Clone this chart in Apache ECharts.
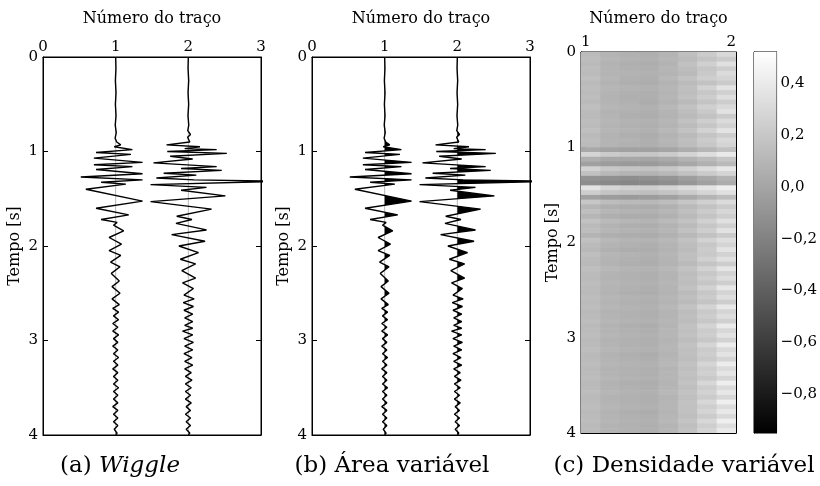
<!DOCTYPE html>
<html>
<head>
<meta charset="utf-8">
<script src="https://cdn.jsdelivr.net/npm/echarts@6/dist/echarts.min.js"></script>
<style>
  html, body { margin: 0; padding: 0; background: #fff; }
  #chart { width: 820px; height: 486px; }
</style>
</head>
<body>
<div id="chart"></div>
<script>
(function () {

    var FONT = 'DejaVu Serif';

    // trace numbers (centre of each wiggle)
    var traceCentres = [1, 2];

    // trace 1: time [s] and amplitude (turning points)
    var trace1T = [0.00, 0.12, 0.25, 0.38, 0.50, 0.62, 0.72, 0.80, 0.86, 0.90, 0.93, 0.95,
        0.98, 1.01, 1.03, 1.07, 1.115, 1.14, 1.16, 1.19, 1.235, 1.27, 1.30, 1.325, 1.345, 1.40,
        1.525, 1.60, 1.67, 1.72, 1.75, 1.78, 1.84, 1.91, 1.98, 2.05, 2.10, 2.17, 2.22, 2.29,
        2.37, 2.43, 2.50, 2.56, 2.62, 2.66, 2.70, 2.74, 2.78, 2.82, 2.86, 2.90, 2.94, 2.98,
        3.02, 3.06, 3.10, 3.14, 3.18, 3.22, 3.26, 3.30, 3.34, 3.38, 3.42, 3.46, 3.50, 3.54,
        3.58, 3.62, 3.66, 3.70, 3.74, 3.78, 3.82, 3.86, 3.90, 3.94, 3.98, 4.00];
    var trace1A = [0.000, 0.004, -0.004, 0.005, -0.004, 0.005, -0.006, 0.008, -0.008, 0.015, 0.07, -0.02,
        0.23, -0.27, 0.21, -0.30, 0.37, -0.30, 0.23, -0.27, 0.37, -0.48, 0.37, -0.20, 0.14, -0.41,
        0.37, -0.27, 0.18, -0.20, 0.02, -0.03, 0.11, -0.09, 0.08, -0.09, 0.07, -0.07, 0.06, -0.06,
        0.05, -0.05, 0.06, -0.05, 0.05, -0.04, 0.04, -0.03, 0.04, -0.04, 0.03, -0.04, 0.04, -0.03,
        0.03, -0.04, 0.03, -0.03, 0.04, -0.03, 0.03, -0.04, 0.03, -0.03, 0.03, -0.03, 0.04, -0.03,
        0.03, -0.03, 0.03, -0.04, 0.03, -0.03, 0.03, -0.03, 0.03, -0.02, 0.02, 0.00];

    // trace 2
    var trace2T = [0.00, 0.12, 0.25, 0.38, 0.50, 0.62, 0.72, 0.78, 0.82, 0.85, 0.90, 0.93,
        0.95, 0.97, 0.98, 1.00, 1.02, 1.05, 1.08, 1.12, 1.16, 1.18, 1.20, 1.23, 1.25, 1.28,
        1.30, 1.316, 1.35, 1.38, 1.41, 1.47, 1.53, 1.61, 1.685, 1.72, 1.76, 1.83, 1.88, 1.95,
        2.00, 2.07, 2.14, 2.19, 2.26, 2.34, 2.39, 2.45, 2.52, 2.56, 2.60, 2.64, 2.68, 2.72,
        2.76, 2.80, 2.84, 2.87, 2.90, 2.94, 2.98, 3.02, 3.06, 3.10, 3.14, 3.18, 3.22, 3.26,
        3.30, 3.34, 3.38, 3.42, 3.46, 3.50, 3.54, 3.58, 3.62, 3.66, 3.70, 3.74, 3.78, 3.82,
        3.86, 3.90, 3.94, 3.98, 4.00];
    var trace2A = [0.000, -0.004, 0.005, -0.004, 0.005, -0.005, 0.006, -0.008, 0.03, -0.01, 0.02, -0.30,
        0.16, -0.05, 0.39, -0.29, 0.53, -0.25, 0.06, -0.48, 0.39, -0.10, 0.46, -0.34, 0.11, -0.44,
        0.08, 1.25, -0.52, 0.25, -0.10, 0.51, -0.52, 0.32, -0.16, 0.05, -0.17, 0.25, -0.23, 0.23,
        -0.13, 0.14, -0.11, 0.10, -0.09, 0.10, -0.08, 0.07, -0.06, 0.08, -0.07, 0.07, -0.06, 0.06,
        -0.05, 0.06, -0.05, 0.06, -0.08, 0.06, -0.06, 0.07, -0.05, 0.06, -0.06, 0.05, -0.05, 0.06,
        -0.05, 0.04, -0.04, 0.05, -0.04, 0.04, -0.04, 0.03, -0.04, 0.04, -0.03, 0.03, -0.04, 0.03,
        -0.03, 0.03, -0.03, 0.02, 0.00];

    // variable density image: column centres (trace axis) and one row per 0.05 s
    var heatCols = [1.0625, 1.1875, 1.3125, 1.4375, 1.5625, 1.6875, 1.8125, 1.9375];
    var heatRowStep = 0.05;
    var heatRows = [
        [0.13, 0.09, 0.07, 0.06, 0.09, 0.15, 0.22, 0.30],
        [0.14, 0.10, 0.08, 0.07, 0.10, 0.13, 0.18, 0.22],
        [0.12, 0.08, 0.06, 0.05, 0.08, 0.16, 0.25, 0.34],
        [0.14, 0.09, 0.07, 0.06, 0.10, 0.14, 0.19, 0.24],
        [0.13, 0.09, 0.08, 0.07, 0.09, 0.12, 0.21, 0.31],
        [0.15, 0.10, 0.07, 0.06, 0.11, 0.17, 0.24, 0.27],
        [0.12, 0.08, 0.06, 0.05, 0.08, 0.13, 0.17, 0.22],
        [0.14, 0.10, 0.08, 0.07, 0.10, 0.15, 0.26, 0.36],
        [0.13, 0.09, 0.07, 0.06, 0.09, 0.14, 0.20, 0.25],
        [0.14, 0.08, 0.06, 0.06, 0.10, 0.16, 0.23, 0.33],
        [0.12, 0.09, 0.07, 0.05, 0.08, 0.12, 0.18, 0.23],
        [0.15, 0.10, 0.08, 0.07, 0.11, 0.17, 0.25, 0.30],
        [0.13, 0.08, 0.07, 0.06, 0.09, 0.14, 0.21, 0.35],
        [0.12, 0.09, 0.06, 0.05, 0.08, 0.12, 0.17, 0.22],
        [0.14, 0.10, 0.08, 0.07, 0.10, 0.16, 0.24, 0.31],
        [0.13, 0.09, 0.07, 0.06, 0.09, 0.13, 0.19, 0.26],
        [0.15, 0.10, 0.08, 0.07, 0.11, 0.17, 0.26, 0.36],
        [0.12, 0.08, 0.06, 0.05, 0.08, 0.12, 0.18, 0.23],
        [0.14, 0.09, 0.08, 0.06, 0.10, 0.15, 0.22, 0.30],
        [0.13, 0.09, 0.07, 0.06, 0.09, 0.14, 0.20, 0.27],
        [0.02, -0.01, -0.02, -0.02, 0.00, 0.05, 0.10, 0.16],
        [0.28, 0.22, 0.20, 0.19, 0.22, 0.27, 0.33, 0.40],
        [0.06, 0.02, 0.01, 0.00, 0.03, 0.08, 0.13, 0.19],
        [-0.02, -0.05, -0.06, -0.06, -0.03, 0.02, 0.07, 0.12],
        [0.26, 0.20, 0.18, 0.17, 0.20, 0.25, 0.31, 0.38],
        [0.16, 0.11, 0.09, 0.08, 0.11, 0.16, 0.22, 0.28],
        [-0.10, -0.12, -0.13, -0.12, -0.09, -0.04, 0.02, 0.08],
        [-0.14, -0.16, -0.17, -0.16, -0.13, -0.08, -0.02, 0.04],
        [0.36, 0.28, 0.25, 0.24, 0.27, 0.31, 0.36, 0.42],
        [0.24, 0.18, 0.16, 0.15, 0.18, 0.22, 0.28, 0.34],
        [-0.02, -0.05, -0.06, -0.05, -0.02, 0.03, 0.09, 0.14],
        [0.20, 0.14, 0.12, 0.11, 0.14, 0.19, 0.25, 0.31],
        [0.10, 0.06, 0.05, 0.04, 0.07, 0.12, 0.17, 0.22],
        [0.15, 0.10, 0.08, 0.07, 0.10, 0.15, 0.22, 0.29],
        [0.10, 0.06, 0.04, 0.04, 0.07, 0.12, 0.18, 0.24],
        [0.17, 0.12, 0.10, 0.09, 0.12, 0.17, 0.25, 0.34],
        [0.12, 0.08, 0.06, 0.05, 0.08, 0.13, 0.19, 0.25],
        [0.14, 0.10, 0.08, 0.07, 0.10, 0.16, 0.24, 0.35],
        [0.09, 0.06, 0.05, 0.04, 0.07, 0.11, 0.17, 0.22],
        [0.16, 0.11, 0.09, 0.08, 0.11, 0.17, 0.26, 0.33],
        [0.13, 0.09, 0.07, 0.06, 0.09, 0.14, 0.20, 0.27],
        [0.11, 0.07, 0.05, 0.05, 0.08, 0.13, 0.22, 0.36],
        [0.15, 0.10, 0.08, 0.07, 0.10, 0.15, 0.21, 0.26],
        [0.13, 0.09, 0.07, 0.06, 0.09, 0.15, 0.25, 0.34],
        [0.12, 0.08, 0.06, 0.05, 0.08, 0.12, 0.18, 0.23],
        [0.15, 0.11, 0.09, 0.08, 0.11, 0.17, 0.26, 0.37],
        [0.13, 0.09, 0.07, 0.06, 0.09, 0.14, 0.20, 0.26],
        [0.12, 0.08, 0.07, 0.06, 0.09, 0.15, 0.23, 0.32],
        [0.14, 0.10, 0.08, 0.07, 0.10, 0.14, 0.19, 0.24],
        [0.13, 0.09, 0.07, 0.06, 0.09, 0.16, 0.26, 0.38],
        [0.12, 0.08, 0.06, 0.05, 0.08, 0.13, 0.20, 0.27],
        [0.14, 0.10, 0.08, 0.07, 0.10, 0.15, 0.22, 0.33],
        [0.13, 0.09, 0.07, 0.06, 0.09, 0.13, 0.18, 0.23],
        [0.14, 0.10, 0.08, 0.07, 0.11, 0.17, 0.27, 0.39],
        [0.12, 0.08, 0.07, 0.06, 0.09, 0.14, 0.21, 0.28],
        [0.13, 0.09, 0.07, 0.06, 0.09, 0.15, 0.23, 0.33],
        [0.14, 0.10, 0.08, 0.07, 0.10, 0.14, 0.20, 0.25],
        [0.12, 0.08, 0.06, 0.05, 0.09, 0.16, 0.27, 0.40],
        [0.13, 0.09, 0.07, 0.06, 0.10, 0.15, 0.22, 0.29],
        [0.14, 0.10, 0.08, 0.07, 0.10, 0.16, 0.24, 0.35],
        [0.12, 0.08, 0.07, 0.06, 0.09, 0.14, 0.20, 0.26],
        [0.13, 0.09, 0.07, 0.06, 0.10, 0.17, 0.28, 0.41],
        [0.14, 0.10, 0.08, 0.07, 0.10, 0.15, 0.22, 0.30],
        [0.12, 0.08, 0.06, 0.05, 0.09, 0.15, 0.24, 0.36],
        [0.13, 0.09, 0.07, 0.06, 0.10, 0.14, 0.21, 0.27],
        [0.14, 0.10, 0.08, 0.07, 0.11, 0.17, 0.28, 0.41],
        [0.12, 0.08, 0.07, 0.06, 0.09, 0.15, 0.23, 0.31],
        [0.13, 0.09, 0.07, 0.06, 0.10, 0.16, 0.25, 0.37],
        [0.14, 0.10, 0.08, 0.07, 0.10, 0.15, 0.21, 0.28],
        [0.12, 0.08, 0.06, 0.05, 0.09, 0.17, 0.29, 0.42],
        [0.13, 0.09, 0.07, 0.06, 0.10, 0.15, 0.23, 0.31],
        [0.14, 0.10, 0.08, 0.07, 0.11, 0.17, 0.26, 0.38],
        [0.12, 0.08, 0.07, 0.06, 0.09, 0.15, 0.22, 0.29],
        [0.13, 0.09, 0.07, 0.06, 0.10, 0.17, 0.29, 0.43],
        [0.14, 0.10, 0.08, 0.07, 0.10, 0.16, 0.24, 0.32],
        [0.12, 0.08, 0.06, 0.05, 0.09, 0.16, 0.27, 0.39],
        [0.13, 0.09, 0.07, 0.06, 0.10, 0.15, 0.22, 0.30],
        [0.14, 0.10, 0.08, 0.07, 0.11, 0.18, 0.29, 0.43],
        [0.12, 0.08, 0.07, 0.06, 0.09, 0.15, 0.24, 0.33],
        [0.13, 0.09, 0.07, 0.06, 0.10, 0.17, 0.27, 0.40]
    ];

    // colour bar
    var barMin = -0.95;
    var barMax = 0.52;
    var barTicks = [-0.8, -0.6, -0.4, -0.2, 0, 0.2, 0.4];

    var captions = ['(a) ', '(b) Área variável', '(c) Densidade variável'];

    var chart = echarts.init(document.getElementById('chart'));

    function toPoints(T, A, centre) {
        return T.map(function (t, i) { return [centre + A[i], t]; });
    }

    function commaNum(v) {
        var s = Math.abs(v).toFixed(1).replace('.', ',');
        return (v < -1e-9 ? '\u2212' : '') + s;
    }

    // positive lobes filled black (variable area)
    function fillRender(T, A, centre) {
        return function (params, api) {
            var pts = [];
            for (var i = 0; i < T.length; i++) {
                if (i > 0) {
                    var ap = A[i - 1], a = A[i];
                    if ((ap > 0 && a < 0) || (ap < 0 && a > 0)) {
                        var tz = T[i - 1] + (T[i] - T[i - 1]) * ap / (ap - a);
                        pts.push(api.coord([centre, tz]));
                    }
                }
                pts.push(api.coord([centre + Math.max(A[i], 0), T[i]]));
            }
            pts.push(api.coord([centre, T[T.length - 1]]));
            pts.push(api.coord([centre, T[0]]));
            var cs = params.coordSys;
            return {
                type: 'polygon',
                shape: { points: pts },
                style: { fill: '#000' },
                clipPath: { type: 'rect', shape: { x: cs.x, y: cs.y, width: cs.width, height: cs.height } }
            };
        };
    }

    var heatData = [];
    heatRows.forEach(function (row, i) {
        row.forEach(function (v, j) {
            heatData.push([heatCols[j], heatRowStep * (i + 0.5), v]);
        });
    });

    function cellRender(params, api) {
        var x = api.value(0), t = api.value(1);
        var p0 = api.coord([x - 0.0625, t - heatRowStep / 2]);
        var p1 = api.coord([x + 0.0625, t + heatRowStep / 2]);
        var cs = params.coordSys;
        return {
            type: 'rect',
            shape: { x: p0[0], y: p0[1], width: p1[0] - p0[0] + 0.6, height: p1[1] - p0[1] + 0.6 },
            style: { fill: api.visual('color') },
            clipPath: { type: 'rect', shape: { x: cs.x, y: cs.y, width: cs.width, height: cs.height } }
        };
    }

    function barRender(params, api) {
        var p0 = api.coord([0, barMax]);
        var p1 = api.coord([1, barMin]);
        return {
            type: 'rect',
            shape: { x: p0[0], y: p0[1], width: p1[0] - p0[0], height: p1[1] - p0[1] },
            style: {
                fill: new echarts.graphic.LinearGradient(0, 0, 0, 1, [
                    { offset: 0, color: '#ffffff' }, { offset: 1, color: '#000000' }
                ])
            }
        };
    }

    var lineBlack = { onZero: false, lineStyle: { color: '#000' } };
    var tickIn = { inside: true, length: 5, lineStyle: { color: '#000' } };

    function traceXAxis(gi) {
        return [{
            gridIndex: gi, type: 'value', min: 0, max: 3, interval: 1, position: 'top',
            name: 'Número do traço', nameLocation: 'middle', nameGap: 30,
            nameTextStyle: { color: '#000', fontFamily: FONT, fontSize: 16 },
            axisLine: lineBlack, axisTick: tickIn,
            axisLabel: { color: '#000', fontFamily: FONT, fontSize: 15, margin: 2 },
            splitLine: { show: false }
        }, {
            gridIndex: gi, type: 'value', min: 0, max: 3, interval: 1, position: 'bottom',
            axisLine: lineBlack, axisTick: tickIn,
            axisLabel: { show: false }, splitLine: { show: false }
        }];
    }

    function timeYAxis(gi, gap) {
        return [{
            gridIndex: gi, type: 'value', min: 0, max: 4, interval: 1, inverse: true, position: 'left',
            name: 'Tempo [s]', nameLocation: 'middle', nameGap: gap, nameRotate: 90,
            nameTextStyle: { color: '#000', fontFamily: FONT, fontSize: 16 },
            axisLine: lineBlack, axisTick: tickIn,
            axisLabel: { color: '#000', fontFamily: FONT, fontSize: 15, margin: 5 },
            splitLine: { show: false }
        }, {
            gridIndex: gi, type: 'value', min: 0, max: 4, interval: 1, inverse: true, position: 'right',
            axisLine: lineBlack, axisTick: tickIn,
            axisLabel: { show: false }, splitLine: { show: false }
        }];
    }

    var xAxes = [].concat(traceXAxis(0), traceXAxis(1), [{
        gridIndex: 2, type: 'value', min: 1, max: 2, interval: 0.5, position: 'top',
        name: 'Número do traço', nameLocation: 'middle', nameGap: 25,
        nameTextStyle: { color: '#000', fontFamily: FONT, fontSize: 16 },
        axisLine: lineBlack, axisTick: tickIn,
        axisLabel: {
            color: '#000', fontFamily: FONT, fontSize: 15, margin: 2,
            alignMinLabel: 'left', alignMaxLabel: 'right',
            formatter: function (v) { return v % 1 === 0 ? String(v) : ''; }
        },
        splitLine: { show: false }
    }, {
        gridIndex: 2, type: 'value', min: 1, max: 2, interval: 0.5, position: 'bottom',
        axisLine: lineBlack, axisTick: tickIn,
        axisLabel: { show: false }, splitLine: { show: false }
    }, {
        gridIndex: 3, type: 'value', min: 0, max: 1, show: false
    }]);

    var yAxes = [].concat(timeYAxis(0, 20), timeYAxis(1, 20), timeYAxis(2, 20), [{
        gridIndex: 3, type: 'value', min: barMin, max: barMax, position: 'left',
        axisLine: lineBlack,
        axisTick: { inside: true, length: 4, customValues: barTicks, lineStyle: { color: '#000' } },
        axisLabel: { show: false }, splitLine: { show: false }
    }, {
        gridIndex: 3, type: 'value', min: barMin, max: barMax, position: 'right',
        axisLine: lineBlack,
        axisTick: { inside: true, length: 4, customValues: barTicks, lineStyle: { color: '#000' } },
        axisLabel: {
            color: '#000', fontFamily: FONT, fontSize: 15, margin: 4,
            customValues: barTicks, formatter: commaNum
        },
        splitLine: { show: false }
    }]);

    var series = [];
    // panels (a) and (b): grey zero lines and wiggle traces
    [0, 1].forEach(function (gi) {
        var xi = gi * 2, yi = gi * 2;
        if (gi === 1) {
            series.push({
                type: 'custom', xAxisIndex: xi, yAxisIndex: yi, silent: true,
                renderItem: fillRender(trace1T, trace1A, traceCentres[0]), data: [[traceCentres[0], 0]], z: 2
            });
            series.push({
                type: 'custom', xAxisIndex: xi, yAxisIndex: yi, silent: true,
                renderItem: fillRender(trace2T, trace2A, traceCentres[1]), data: [[traceCentres[1], 0]], z: 2
            });
        }
        traceCentres.forEach(function (c) {
            series.push({
                type: 'line', xAxisIndex: xi, yAxisIndex: yi, silent: true, symbol: 'none', z: 1,
                data: [[c, 0], [c, 4]], lineStyle: { color: '#b8b8b8', width: 1 }
            });
        });
        series.push({
            type: 'line', xAxisIndex: xi, yAxisIndex: yi, silent: true, symbol: 'none', z: 3,
            data: toPoints(trace1T, trace1A, traceCentres[0]), lineStyle: { color: '#000', width: 1.4 }
        });
        series.push({
            type: 'line', xAxisIndex: xi, yAxisIndex: yi, silent: true, symbol: 'none', z: 3,
            data: toPoints(trace2T, trace2A, traceCentres[1]), lineStyle: { color: '#000', width: 1.4 }
        });
    });
    var heatIndex = series.length;
    series.push({
        type: 'custom', xAxisIndex: 4, yAxisIndex: 4, silent: true,
        renderItem: cellRender, data: heatData, encode: { x: 0, y: 1 }
    });
    series.push({
        type: 'custom', xAxisIndex: 6, yAxisIndex: 6, silent: true,
        renderItem: barRender, data: [[0, barMin]]
    });

    var capStyle = { fontFamily: FONT, fontSize: 23, color: '#000' };

    var option = {
        animation: false,
        backgroundColor: '#fff',
        grid: [
            { left: 43, top: 57, width: 218, height: 378, show: true, borderColor: '#000', borderWidth: 1 },
            { left: 312, top: 57, width: 218, height: 378, show: true, borderColor: '#000', borderWidth: 1 },
            { left: 581, top: 52, width: 155, height: 381, show: true, borderColor: '#000', borderWidth: 1 },
            { left: 754, top: 52, width: 26, height: 381, show: true, borderColor: '#000', borderWidth: 1 }
        ],
        xAxis: xAxes,
        yAxis: yAxes,
        visualMap: {
            type: 'continuous', show: false, seriesIndex: heatIndex, dimension: 2,
            min: barMin, max: barMax, inRange: { color: ['#000000', '#ffffff'] }
        },
        series: series,
        graphic: [
            {
                type: 'text', x: 120, y: 466, silent: true,
                style: {
                    text: '{n|' + captions[0] + '}{i|Wiggle}',
                    rich: { n: capStyle, i: { fontFamily: FONT, fontSize: 23, fontStyle: 'italic', color: '#000' } },
                    align: 'center', verticalAlign: 'middle'
                }
            },
            {
                type: 'text', x: 392, y: 466, silent: true,
                style: { text: captions[1], font: '23px "' + FONT + '"', fill: '#000', align: 'center', verticalAlign: 'middle' }
            },
            {
                type: 'text', x: 684, y: 466, silent: true,
                style: { text: captions[2], font: '23px "' + FONT + '"', fill: '#000', align: 'center', verticalAlign: 'middle' }
            }
        ]
    };

    chart.setOption(option);
    window.onresize = chart.resize;
})();
</script>
</body>
</html>
